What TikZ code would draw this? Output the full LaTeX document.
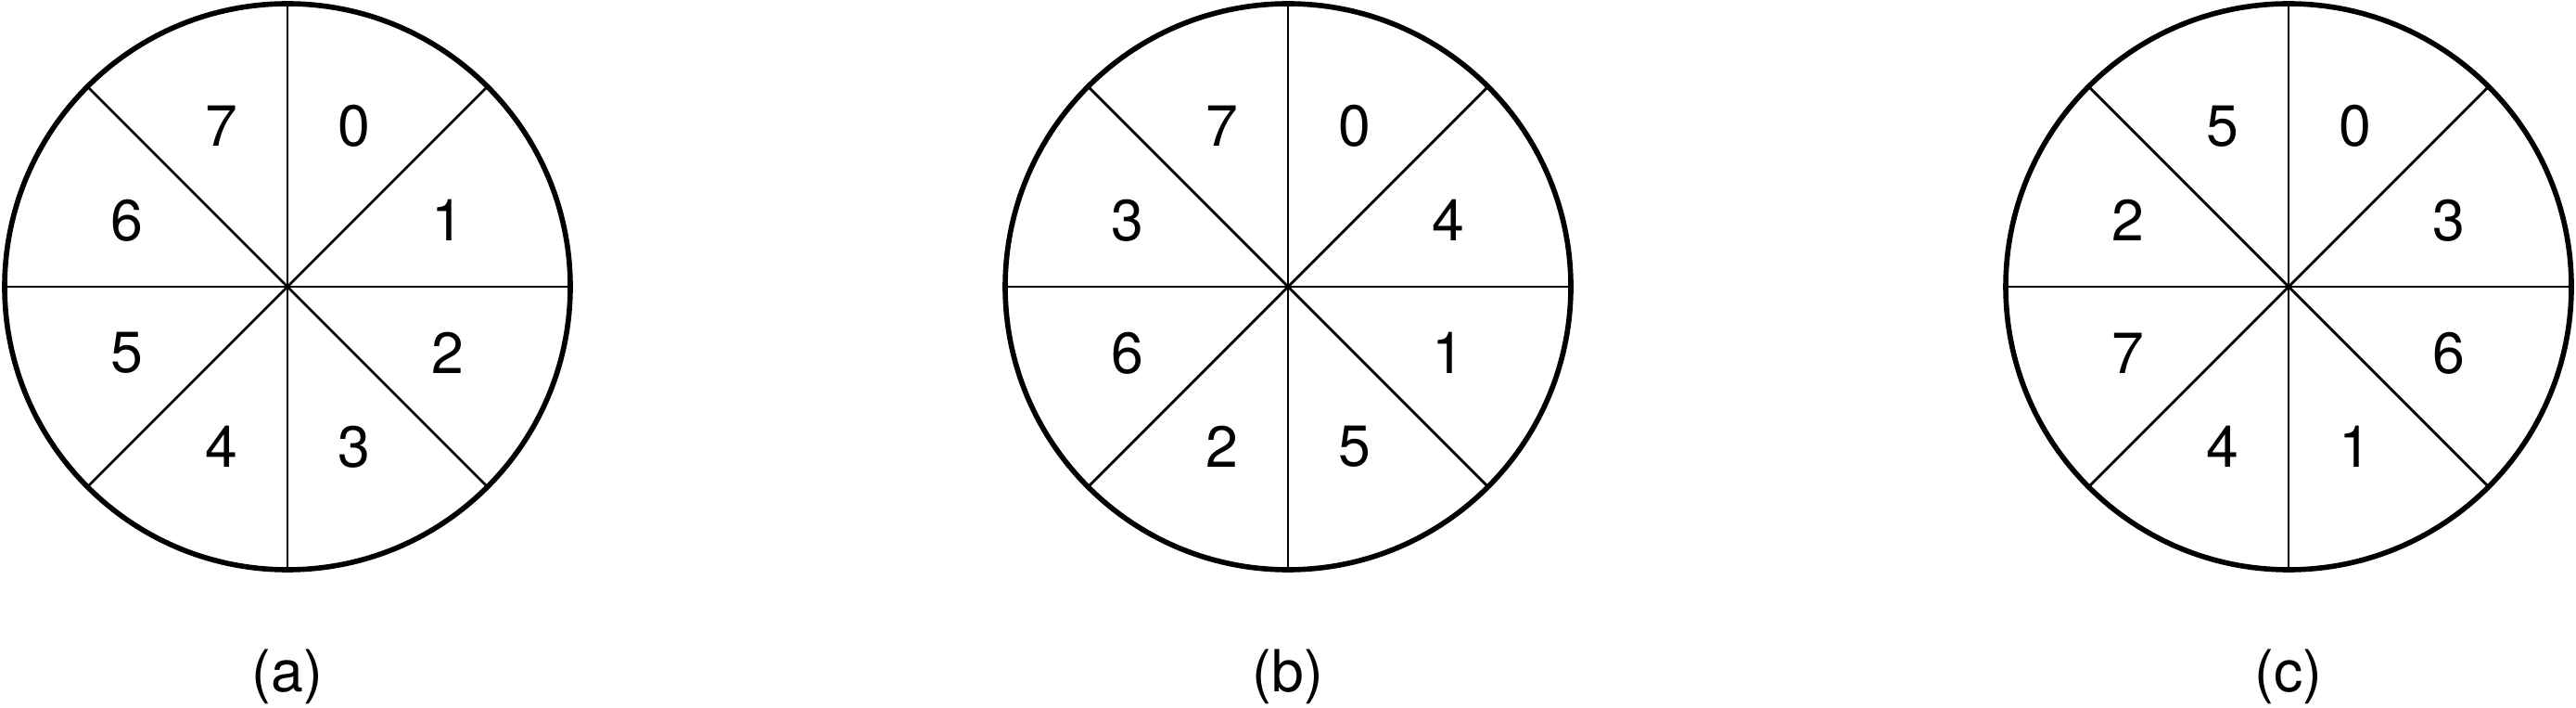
\documentclass[tikz,border=0pt]{standalone}
\usepackage{fontspec}
\setmainfont{TeX Gyre Heros}
\usetikzlibrary{positioning, calc}

\begin{document}
\begin{tikzpicture}[
				rim/.style={line width=1.6pt},
				spoke/.style={line width=0.8pt},
				digit/.style={font=\fontsize{17.8}{20}\selectfont, inner sep=0pt},
				caption/.style={font=\fontsize{17.8}{20}\selectfont, inner sep=0pt, anchor=base}
			]
				\useasboundingbox (0,0) rectangle (27.78,7.62);
				\foreach \cx/\tag/\labs in {3.10/a/{0,1,2,3,4,5,6,7}, 13.89/b/{0,4,1,5,2,6,3,7}, 24.68/c/{0,3,6,1,4,7,2,5}} {
					\coordinate (c\tag) at (\cx,4.53);
					\draw[rim] (c\tag) circle (3.05);
					\foreach \a in {0,45,...,315}
						\draw[spoke] (c\tag) -- ++(\a:3.05);
					\foreach \d [count=\i from 0] in \labs
						\node[digit] (d\tag\i) at ($(c\tag)+(67.5-45*\i:1.87)$) {\d};
					\node[caption] (cap\tag) at (\cx,0.17) {(\tag)};
				}
			\end{tikzpicture}
\end{document}
